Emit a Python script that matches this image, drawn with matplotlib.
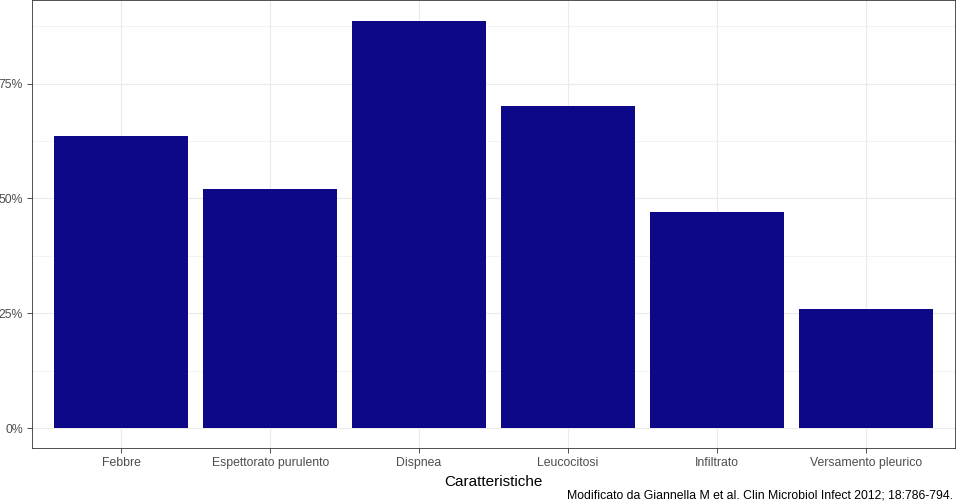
import numpy as np
import matplotlib
matplotlib.use("Agg")
import matplotlib.pyplot as plt
from matplotlib.ticker import FixedLocator, PercentFormatter

# Data
categorie = ["Febbre", "Espettorato purulento", "Dispnea",
             "Leucocitosi", "Infiltrato", "Versamento pleurico"]
percentuali = [63.5, 52.0, 88.7, 70.2, 47.0, 25.9]
y_ticks = [0, 25, 50, 75]

plt.rcParams['font.family'] = ['Liberation Sans', 'DejaVu Sans']

W, H = 956, 503
fig = plt.figure(figsize=(W / 100, H / 100), dpi=100)
ax = fig.add_axes([32 / W, (H - 448.4) / H, (955 - 32) / W, 448.0 / H])

x = np.arange(1, len(categorie) + 1)
ax.bar(x, percentuali, width=0.9, color="#0D0887", zorder=3)

# ggplot-style limits (discrete expand 0.6, continuous expand 5%)
ax.set_xlim(0.4, len(categorie) + 0.6)
ymax = max(percentuali)
ax.set_ylim(-0.05 * ymax, ymax * 1.05)

ax.set_xticks(x)
ax.set_xticklabels(categorie)
ax.yaxis.set_major_locator(FixedLocator(y_ticks))
ax.yaxis.set_minor_locator(FixedLocator([12.5, 37.5, 62.5, 87.5]))
ax.yaxis.set_major_formatter(PercentFormatter(decimals=0))

ax.grid(which="major", color="#EBEBEB", linewidth=0.8, zorder=0)
ax.grid(which="minor", axis="y", color="#EBEBEB", linewidth=0.4, zorder=0)
ax.set_axisbelow(True)

for s in ax.spines.values():
    s.set_color("#333333")
    s.set_linewidth(0.6)

ax.tick_params(axis="both", which="major", colors="#333333", length=3.5,
               width=0.6, labelcolor="#4D4D4D", labelsize=8.8, pad=3)
ax.tick_params(axis="y", which="minor", length=0)

ax.set_xlabel("Caratteristiche", fontsize=11, color="black", labelpad=4)

fig.text(953 / W, 1 - 496 / H, "Modificato da Giannella M et al. Clin Microbiol Infect 2012; 18:786-794.",
         ha="right", va="center", fontsize=8.8, color="black")

fig.savefig("out.png", dpi=100, facecolor="white")
